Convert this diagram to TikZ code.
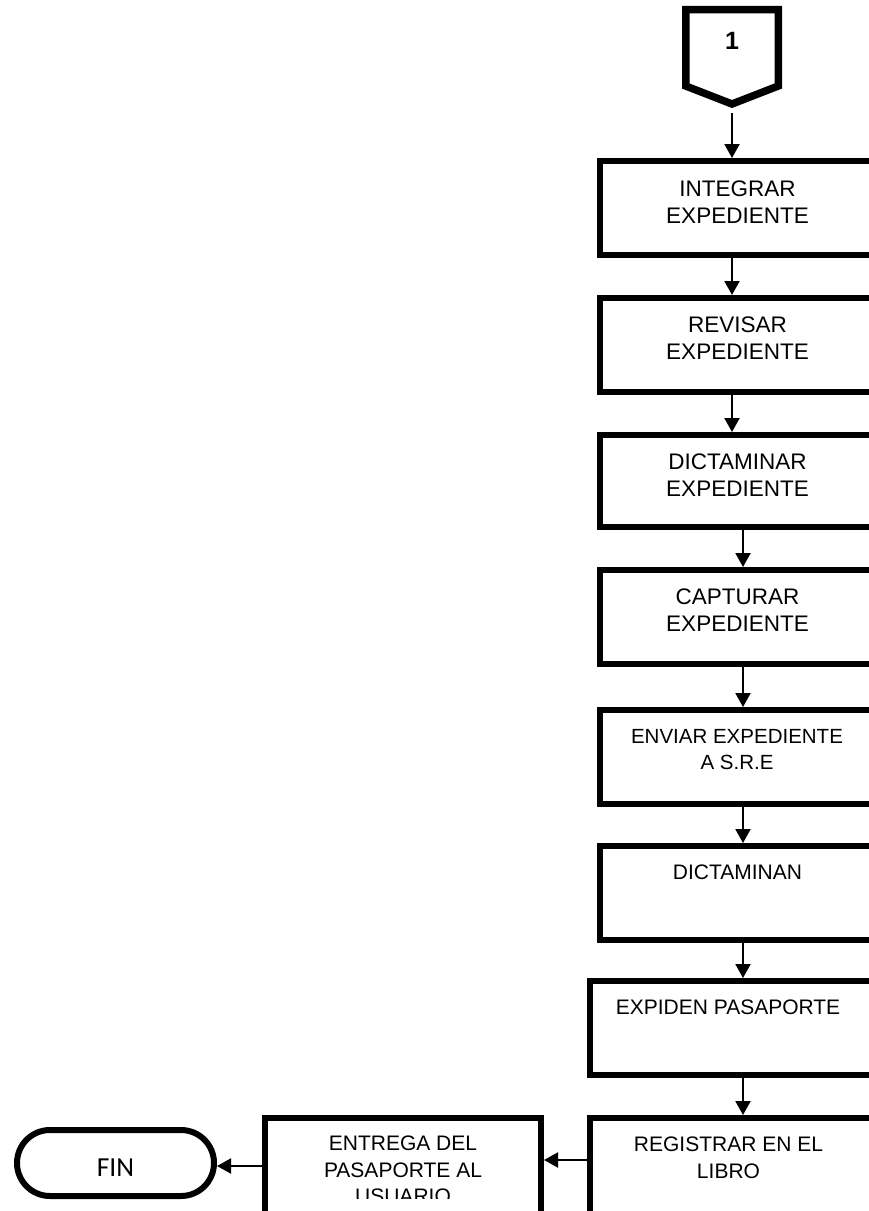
\documentclass[tikz,border=0pt]{standalone}
\usepackage{fontspec}
\setmainfont{Liberation Sans}
\newfontfamily\califont{Carlito}
\usetikzlibrary{arrows.meta}
\begin{document}
\begin{tikzpicture}[x=1pt,y=-1pt,
  box/.style={draw, line width=6pt, rectangle, minimum width=#1, minimum height=94pt, inner sep=0pt},
  tallbox/.style={draw, line width=6pt, rectangle, minimum width=#1, minimum height=100pt, inner sep=0pt},
  txt/.style={anchor=north, inner sep=0pt, align=center, font=\fontsize{#1}{26.5pt}\selectfont},
  arr/.style={line width=2pt, -{Triangle[length=14pt,width=15pt]}}]
\useasboundingbox (0,0) rectangle (869,1211);
\clip (0,0) rectangle (869,1211);
% off-page connector
\draw[line width=7.5pt, miter limit=10] (685.75,9.5) -- (778.25,9.5) -- (778.25,86) -- (732,104) -- (685.75,86) -- cycle;
\node[inner sep=0pt, font=\bfseries\fontsize{25}{30}\selectfont] (one) at (732,41) {1};
\coordinate (pent) at (732,113);
% boxes
\node[box=280pt] (b1) at (740,208) {};
\node[box=280pt] (b2) at (740,345) {};
\node[box=280pt, minimum height=92pt] (b3) at (740,481) {};
\node[box=280pt] (b4) at (740,617) {};
\node[box=280pt] (b5) at (740,757) {};
\node[box=280pt] (b6) at (740,893) {};
\node[box=286pt] (b7) at (733,1028) {};
\node[tallbox=286pt] (b8) at (733,1168) {};
\node[tallbox=276pt] (b9) at (403,1168) {};
\node[draw, line width=6pt, rounded corners=33pt, minimum width=197pt, minimum height=66pt,
      inner sep=0pt, text height=26pt, text depth=0pt,
      font=\califont\fontsize{27.5}{33}\selectfont] (fin) at (115.5,1163) {FIN};
% texts
\node[txt=22.5] (t1) at (737.5,181) {INTEGRAR\\EXPEDIENTE};
\node[txt=22.5] (t2) at (737.5,317) {REVISAR\\EXPEDIENTE};
\node[txt=22.5] (t3) at (737.5,454) {DICTAMINAR\\EXPEDIENTE};
\node[txt=22.5] (t4) at (737.5,589) {CAPTURAR\\EXPEDIENTE};
\node[txt=20.5] (t5) at (737,729) {ENVIAR EXPEDIENTE\\A S.R.E};
\node[txt=21] (t6) at (737.5,865) {DICTAMINAN};
\node[txt=21] (t7) at (728,1000) {EXPIDEN PASAPORTE};
\node[txt=21] (t8) at (728.5,1137) {REGISTRAR EN EL\\LIBRO};
\begin{scope}
\clip (262,1100) rectangle (544,1198);
\node[txt=21] (t9) at (403,1136) {ENTREGA DEL\\PASAPORTE AL\\USUARIO};
\end{scope}
% connectors
\draw[arr] (pent) -- (b1.north -| pent);
\coordinate (colA) at (732,0);
\coordinate (colB) at (743,0);
\draw[arr] (b1.south -| colA) -- (b2.north -| colA);
\draw[arr] (b2.south -| colA) -- (b3.north -| colA);
\draw[arr] (b3.south -| colB) -- (b4.north -| colB);
\draw[arr] (b4.south -| colB) -- (b5.north -| colB);
\draw[arr] (b5.south -| colB) -- (b6.north -| colB);
\draw[arr] (b6.south -| colB) -- (b7.north -| colB);
\draw[arr] (b7.south -| colB) -- (b8.north -| colB);
\draw[arr] ([yshift=8pt]b8.west) -- ([yshift=8pt]b8.west -| b9.east);
\draw[arr] ([yshift=2pt]b9.west) -- ([yshift=2pt]b9.west -| fin.east);
\end{tikzpicture}
\end{document}
